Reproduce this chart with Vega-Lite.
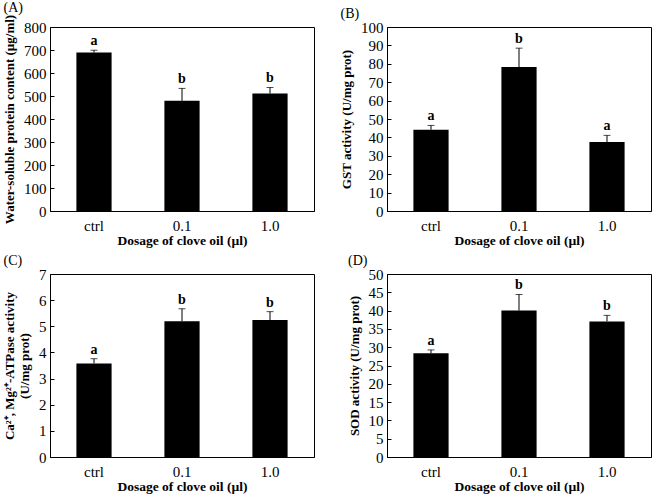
{
  "$schema": "https://vega.github.io/schema/vega-lite/v6.json",
  "background": "white",
  "padding": {"left": 3, "top": 0, "right": 6, "bottom": 1},
  "columns": 2,
  "spacing": {"column": 25, "row": 6},
  "config": {
    "font": "Liberation Serif",
    "view": {"stroke": "black", "strokeWidth": 1},
    "axis": {
      "labelFont": "Liberation Serif", "titleFont": "Liberation Serif",
      "labelFontSize": 15, "titleFontSize": 13.5, "titleFontWeight": "bold",
      "labelColor": "black", "titleColor": "black", "domainColor": "black", "tickColor": "black",
      "grid": false, "labelOverlap": false
    },
    "axisX": {"ticks": false, "labelAngle": 0, "labelPadding": 7, "titlePadding": 0, "domain": true},
    "axisY": {"tickSize": -4, "labelPadding": 8, "titlePadding": 7, "titleFontSize": 13},
    "title": {"font": "Liberation Serif", "fontSize": 14, "fontWeight": "normal", "color": "black", "anchor": "start", "frame": "bounds", "offset": -1},
    "bar": {"color": "black"},
    "rule": {"color": "black", "strokeWidth": 1},
    "tick": {"color": "black", "thickness": 1, "size": 7},
    "text": {"font": "Liberation Serif", "fontSize": 14, "fontWeight": "bold", "color": "black", "dy": -9}
  },
  "concat": [
    {
      "title": "(A)",
      "width": 264, "height": 184,
      "data": {"values": [
        {"dose": "ctrl", "mean": 689, "upper": 699, "letter": "a"},
        {"dose": "0.1", "mean": 479, "upper": 533, "letter": "b"},
        {"dose": "1.0", "mean": 511, "upper": 537, "letter": "b"}
      ]},
      "encoding": {"x": {"field": "dose", "type": "nominal", "sort": null, "scale": {"paddingInner": 0.6, "paddingOuter": 0.3}, "title": "Dosage of clove oil (µl)"}},
      "layer": [
        {"mark": "bar", "encoding": {"y": {"field": "mean", "type": "quantitative", "scale": {"domain": [0, 800]}, "axis": {"values": [0, 100, 200, 300, 400, 500, 600, 700, 800]}, "title": "Water-soluble protein content (µg/ml)"}}},
        {"mark": "rule", "encoding": {"y": {"field": "mean", "type": "quantitative", "axis": {"values": [0, 100, 200, 300, 400, 500, 600, 700, 800]}, "title": "Water-soluble protein content (µg/ml)"}, "y2": {"field": "upper"}}},
        {"mark": "tick", "encoding": {"y": {"field": "upper", "type": "quantitative", "axis": {"values": [0, 100, 200, 300, 400, 500, 600, 700, 800]}, "title": "Water-soluble protein content (µg/ml)"}}},
        {"mark": "text", "encoding": {"y": {"field": "upper", "type": "quantitative", "axis": {"values": [0, 100, 200, 300, 400, 500, 600, 700, 800]}, "title": "Water-soluble protein content (µg/ml)"}, "text": {"field": "letter"}}}
      ]
    },
    {
      "title": "(B)",
      "width": 264, "height": 184,
      "data": {"values": [
        {"dose": "ctrl", "mean": 44.1, "upper": 46.5, "letter": "a"},
        {"dose": "0.1", "mean": 78.2, "upper": 88.5, "letter": "b"},
        {"dose": "1.0", "mean": 37.5, "upper": 41.1, "letter": "a"}
      ]},
      "encoding": {"x": {"field": "dose", "type": "nominal", "sort": null, "scale": {"paddingInner": 0.6, "paddingOuter": 0.3}, "title": "Dosage of clove oil (µl)"}},
      "layer": [
        {"mark": "bar", "encoding": {"y": {"field": "mean", "type": "quantitative", "scale": {"domain": [0, 100]}, "axis": {"values": [0, 10, 20, 30, 40, 50, 60, 70, 80, 90, 100]}, "title": "GST activity (U/mg prot)"}}},
        {"mark": "rule", "encoding": {"y": {"field": "mean", "type": "quantitative", "axis": {"values": [0, 10, 20, 30, 40, 50, 60, 70, 80, 90, 100]}, "title": "GST activity (U/mg prot)"}, "y2": {"field": "upper"}}},
        {"mark": "tick", "encoding": {"y": {"field": "upper", "type": "quantitative", "axis": {"values": [0, 10, 20, 30, 40, 50, 60, 70, 80, 90, 100]}, "title": "GST activity (U/mg prot)"}}},
        {"mark": "text", "encoding": {"y": {"field": "upper", "type": "quantitative", "axis": {"values": [0, 10, 20, 30, 40, 50, 60, 70, 80, 90, 100]}, "title": "GST activity (U/mg prot)"}, "text": {"field": "letter"}}}
      ]
    },
    {
      "title": "(C)",
      "width": 264, "height": 183,
      "data": {"values": [
        {"dose": "ctrl", "mean": 3.58, "upper": 3.76, "letter": "a"},
        {"dose": "0.1", "mean": 5.19, "upper": 5.67, "letter": "b"},
        {"dose": "1.0", "mean": 5.24, "upper": 5.56, "letter": "b"}
      ]},
      "encoding": {"x": {"field": "dose", "type": "nominal", "sort": null, "scale": {"paddingInner": 0.6, "paddingOuter": 0.3}, "title": "Dosage of clove oil (µl)"}},
      "layer": [
        {"mark": "bar", "encoding": {"y": {"field": "mean", "type": "quantitative", "scale": {"domain": [0, 7]}, "axis": {"values": [0, 1, 2, 3, 4, 5, 6, 7]}, "title": ["Ca²⁺, Mg²⁺-ATPase activity", "(U/mg prot)"]}}},
        {"mark": "rule", "encoding": {"y": {"field": "mean", "type": "quantitative", "axis": {"values": [0, 1, 2, 3, 4, 5, 6, 7]}, "title": ["Ca²⁺, Mg²⁺-ATPase activity", "(U/mg prot)"]}, "y2": {"field": "upper"}}},
        {"mark": "tick", "encoding": {"y": {"field": "upper", "type": "quantitative", "axis": {"values": [0, 1, 2, 3, 4, 5, 6, 7]}, "title": ["Ca²⁺, Mg²⁺-ATPase activity", "(U/mg prot)"]}}},
        {"mark": "text", "encoding": {"y": {"field": "upper", "type": "quantitative", "axis": {"values": [0, 1, 2, 3, 4, 5, 6, 7]}, "title": ["Ca²⁺, Mg²⁺-ATPase activity", "(U/mg prot)"]}, "text": {"field": "letter"}}}
      ]
    },
    {
      "title": "(D)",
      "width": 264, "height": 183,
      "data": {"values": [
        {"dose": "ctrl", "mean": 28.35, "upper": 29.26, "letter": "a"},
        {"dose": "0.1", "mean": 40.0, "upper": 44.4, "letter": "b"},
        {"dose": "1.0", "mean": 37.05, "upper": 38.7, "letter": "b"}
      ]},
      "encoding": {"x": {"field": "dose", "type": "nominal", "sort": null, "scale": {"paddingInner": 0.6, "paddingOuter": 0.3}, "title": "Dosage of clove oil (µl)"}},
      "layer": [
        {"mark": "bar", "encoding": {"y": {"field": "mean", "type": "quantitative", "scale": {"domain": [0, 50]}, "axis": {"values": [0, 5, 10, 15, 20, 25, 30, 35, 40, 45, 50]}, "title": "SOD activity (U/mg prot)"}}},
        {"mark": "rule", "encoding": {"y": {"field": "mean", "type": "quantitative", "axis": {"values": [0, 5, 10, 15, 20, 25, 30, 35, 40, 45, 50]}, "title": "SOD activity (U/mg prot)"}, "y2": {"field": "upper"}}},
        {"mark": "tick", "encoding": {"y": {"field": "upper", "type": "quantitative", "axis": {"values": [0, 5, 10, 15, 20, 25, 30, 35, 40, 45, 50]}, "title": "SOD activity (U/mg prot)"}}},
        {"mark": "text", "encoding": {"y": {"field": "upper", "type": "quantitative", "axis": {"values": [0, 5, 10, 15, 20, 25, 30, 35, 40, 45, 50]}, "title": "SOD activity (U/mg prot)"}, "text": {"field": "letter"}}}
      ]
    }
  ]
}
